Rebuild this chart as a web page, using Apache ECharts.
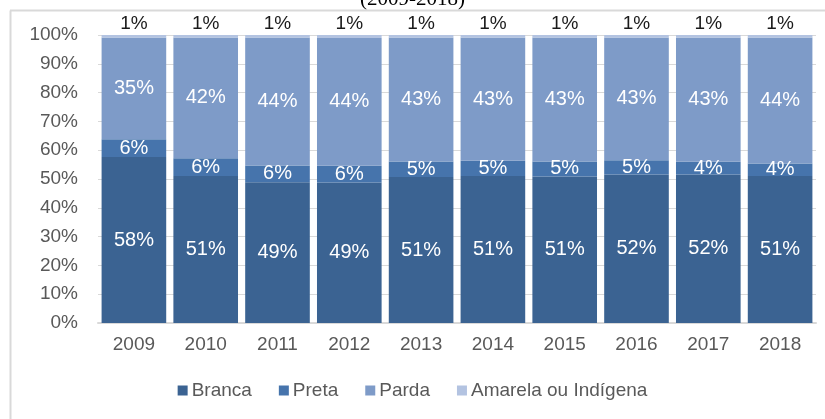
<!DOCTYPE html>
<html style="height: 100%">

<head>
  <meta charset="UTF-8" />
  <title>Cor ou raça 2009-2018</title>
  <script src="https://cdn.jsdelivr.net/npm/echarts@6/dist/echarts.min.js"></script>
</head>

<body style="height: 100%; margin: 0; background: #fff">
  <div id="main" style="width: 825px; height: 419px"></div>
  <script>
    const years = ['2009', '2010', '2011', '2012', '2013', '2014', '2015', '2016', '2017', '2018'];
    const branca = [57.6, 51.0, 48.9, 48.8, 50.7, 51.0, 50.9, 51.6, 51.6, 51.0];
    const preta = [6.2, 6.2, 5.8, 5.8, 5.4, 5.3, 5.2, 4.9, 4.4, 4.4];
    const parda = [35.3, 41.9, 44.4, 44.4, 43.0, 42.8, 43.0, 42.6, 43.1, 43.7];
    const amarela = [0.9, 0.9, 0.9, 1.0, 0.9, 0.9, 0.9, 0.9, 0.9, 0.9];
    const yTicks = [0, 10, 20, 30, 40, 50, 60, 70, 80, 90, 100];

    const font = 'Liberation Sans, Arial, sans-serif';
    const pct = p => Math.round(p.value) + '%';

    const chart = echarts.init(document.getElementById('main'));

    function seg(name, data, color, labelColor, pos) {
      return {
        name: name,
        type: 'bar',
        stack: 'total',
        data: data,
        barCategoryGap: '10%',
        itemStyle: { color: color },
        label: {
          show: true,
          position: pos,
          formatter: pct,
          color: labelColor,
          fontFamily: font,
          fontSize: pos === 'inside' ? 20 : 19,
          distance: 2
        }
      };
    }

    const option = {
      animation: false,
      graphic: [
        { type: 'line', shape: { x1: 10.5, y1: 10.5, x2: 10.5, y2: 419 }, style: { stroke: '#d9d9d9', lineWidth: 2 } },
        { type: 'line', shape: { x1: 10, y1: 10.5, x2: 825, y2: 10.5 }, style: { stroke: '#d9d9d9', lineWidth: 2 } },
        {
          type: 'text', left: 360, top: -11,
          style: { text: '(2009-2018)', font: '21px "Liberation Serif", "Times New Roman", serif', fill: '#000' }
        }
      ],
      grid: { left: 98, right: 9, top: 35, bottom: 96 },
      legend: {
        bottom: 14,
        left: 'center',
        itemWidth: 10,
        itemHeight: 10,
        itemGap: 27,
        icon: 'rect',
        textStyle: { color: '#595959', fontFamily: font, fontSize: 19, padding: [0, 0, 0, -1] },
        data: ['Branca', 'Preta', 'Parda', 'Amarela ou Indígena']
      },
      xAxis: {
        type: 'category',
        data: years,
        axisLine: { lineStyle: { color: '#d9d9d9', width: 2 } },
        axisTick: { show: false },
        axisLabel: { color: '#595959', fontFamily: font, fontSize: 19, margin: 12 }
      },
      yAxis: {
        type: 'value',
        min: 0,
        max: 100,
        interval: 10,
        axisLine: { show: false },
        axisTick: { show: false },
        splitLine: { lineStyle: { color: '#d9d9d9', width: 1 } },
        axisLabel: {
          color: '#595959', fontFamily: font, fontSize: 19, margin: 20,
          formatter: v => (yTicks.includes(v) ? v + '%' : '')
        }
      },
      series: [
        seg('Branca', branca, '#3b6392', '#fff', 'inside'),
        seg('Preta', preta, '#4674ac', '#fff', 'inside'),
        seg('Parda', parda, '#7e9bc8', '#fff', 'inside'),
        seg('Amarela ou Indígena', amarela, '#b3c3e1', '#1a1a1a', 'top')
      ]
    };

    chart.setOption(option);
  </script>
</body>

</html>
